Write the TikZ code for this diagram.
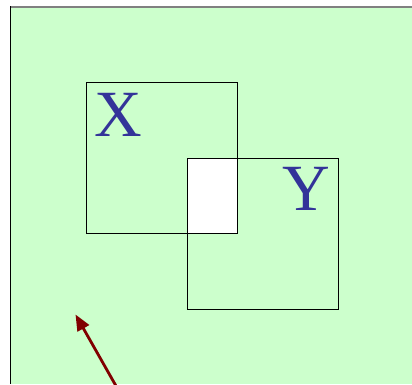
\documentclass[tikz,border=0pt]{standalone}
\usepackage{fontspec}
\setmainfont{Liberation Serif}
\usetikzlibrary{arrows.meta}
\definecolor{bggreen}{HTML}{CCFFCC}
\definecolor{setblue}{HTML}{333399}
\definecolor{arrowred}{HTML}{800000}
\tikzset{
  setbox/.style={draw=black, line width=0.8pt},
  setname/.style={font=\fontsize{66}{66}\selectfont, text=setblue, inner sep=0pt, anchor=base}
}
\begin{document}
\begin{tikzpicture}[x=1pt, y=-1pt]
  \useasboundingbox (0,0) rectangle (412,384);
  % background panel
  \fill[bggreen] (10,6) rectangle (412,384);
  \draw[gray, line width=2pt] (10,6.5) -- (412,6.5);
  \draw[black, line width=1.5pt] (10.6,6) -- (10.6,384);
  % the two sets
  \fill[white] (187,158) rectangle (237,233);
  \draw[setbox] (86,82) rectangle (237,233);
  \draw[setbox] (187,158) rectangle (338,309);
  \node[setname] (setX) at (118.5,136.3) {X};
  \node[setname] (setY) at (306,210.7) {Y};
  % pointer
  \coordinate (tail) at (120,393);
  \coordinate (tip) at (75.5,314.5);
  \draw[arrowred, line width=2.8pt, -{Triangle[length=16pt,width=13pt]}] (tail) -- (tip);
\end{tikzpicture}
\end{document}
